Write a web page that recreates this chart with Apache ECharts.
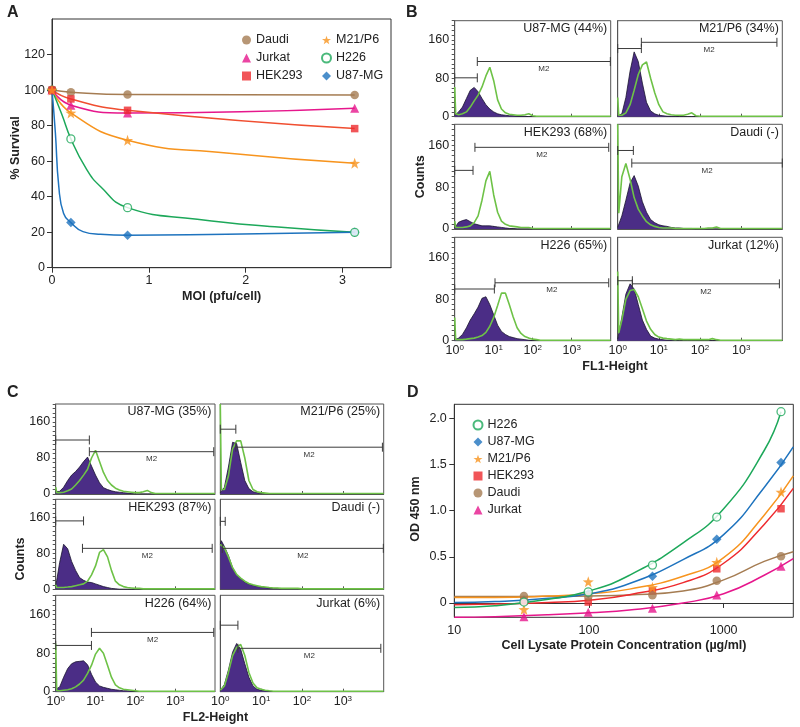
<!DOCTYPE html>
<html><head><meta charset="utf-8">
<script src="https://cdn.jsdelivr.net/npm/echarts@6.0.0/dist/echarts.min.js"></script>
<style>html,body{margin:0;padding:0;background:#fff}#c{width:800px;height:727px}</style>
</head><body><div id="c"></div>
<script>
// ---------------- DATA ----------------
// Panel A: % survival vs MOI
const moiX = [0, 0.195, 0.78, 3.125];
const survDaudi = [100, 98.8, 97.5, 97.2];
const survJurkat = [100, 91.5, 87.1, 89.8];
const survHEK293 = [100, 95, 88.6, 78.3];
const survM21 = [100, 87.1, 71.7, 58.8];
const survH226 = [100, 72.5, 33.8, 19.9];
const survU87 = [100, 25.4, 18.3, 19.9];
// fitted curves (x = MOI, y = % survival)
const fitADaudi = [[0,100],[0.195,98.8],[0.78,97.5],[3.125,97.2]];
const fitAJurkat = [[0,100],[0.195,91.5],[0.78,87.1],[3.125,89.8]];
const fitAHEK293 = [[0,100],[0.195,95],[0.78,88.6],[3.125,78.3]];
const fitAM21 = [[0,100],[0.195,87.1],[0.78,71.7],[1.8,64.5],[3.125,58.8]];
const fitAH226 = [[0,100],[0.1,86.5],[0.195,72.5],[0.35,56],[0.5,45.7],[0.78,33.8],[1.5,27.3],[2.3,23],[3.125,19.9]];
const fitAU87 = [[0,100],[0.035,75.8],[0.07,45.7],[0.12,30.5],[0.195,25.4],[0.32,20.3],[0.5,18.8],[0.78,18.3],[1.8,18.9],[3.125,19.9]];
const aXTicks = [0, 1, 2, 3];
const aYTicks = [0, 20, 40, 60, 80, 100, 120];

// Panel D: OD 450 vs lysate concentration
const concX = [32.9, 98.8, 296, 889, 2667];
const odH226 = [0.01, 0.12, 0.41, 0.93, 2.07];
const odU87 = [0.03, 0.10, 0.29, 0.69, 1.52];
const odM21 = [-0.07, 0.23, 0.17, 0.44, 1.20];
const odHEK293 = [0.02, 0.01, 0.13, 0.37, 1.02];
const odDaudi = [0.076, 0.07, 0.083, 0.24, 0.505];
const odJurkat = [-0.148, -0.10, -0.058, 0.087, 0.397];
const fitDX = [10, 20, 50, 100, 200, 500, 1000, 2000, 3290];
const fitDXH226 = [10, 20, 50, 100, 200, 500, 1000, 2000, 2667];
const fitDH226 = [-0.05, -0.03, 0.04, 0.13, 0.30, 0.65, 1.02, 1.65, 2.07];
const fitDU87 = [0.005, 0.015, 0.05, 0.10, 0.21, 0.47, 0.74, 1.25, 1.69];
const fitDM21 = [0.058, 0.059, 0.075, 0.10, 0.15, 0.29, 0.49, 0.95, 1.375];
const fitDHEK293 = [-0.02, -0.012, 0.005, 0.03, 0.09, 0.22, 0.43, 0.85, 1.24];
const fitDDaudi = [0.07, 0.07, 0.072, 0.076, 0.087, 0.13, 0.25, 0.45, 0.555];
const fitDJurkat = [-0.155, -0.148, -0.128, -0.105, -0.076, 0.0, 0.10, 0.30, 0.48];
const dXTicks = [10, 100, 1000];
const dYTicks = [0, 0.5, 1, 1.5, 2];

// Panels B, C: flow histograms (counts per channel)
const histBins = [1, 1.06, 1.26, 1.58, 2, 2.51, 3.16, 3.98, 5.01, 6.31, 7.94, 10, 12.6, 15.8, 20, 25.1, 31.6, 39.8, 50.1, 63.1, 79.4, 100, 126, 158, 200, 251, 316, 1000, 10000];
const histXTicks = [1, 10, 100, 1000];
const histYLabels = [0, 80, 160];
const histYTicks = [0, 10, 20, 30, 40, 50, 60, 70, 80, 90, 100, 110, 120, 130, 140, 150, 160, 170, 180, 190, 200];
const gateNames = ['M1', 'M2'];

const bNames = ['U87-MG (44%)', 'M21/P6 (34%)', 'HEK293 (68%)', 'Daudi (-)', 'H226 (65%)', 'Jurkat (12%)'];
const bU87Ctrl  = [3,3,10,20,38,55,61,52,38,25,16,10,6,4,3,2,2,1,1,1,0,0,0,0,0,0,0,0,0];
const bU87Stain = [62,6,4,6,10,20,33,45,62,85,103,75,35,16,8,5,4,3,3,4,6,2,1,1,1,1,1,1,1];
const bU87Gates = [[1, 3.8, 81], [3.8, 9800, 115]];
const bM21Ctrl  = [2,2,6,40,95,135,115,70,30,12,6,3,2,1,1,1,0,0,0,0,0,0,0,0,0,0,0,0,0];
const bM21Stain = [40,3,3,8,25,55,88,108,114,80,50,25,10,6,4,3,3,3,5,8,2,1,1,1,1,1,1,1,1];
const bM21Gates = [[1, 3.76, 142], [3.76, 7400, 155]];
const bHEKCtrl  = [2,2,13,16,18,14,10,8,6,6,6,5,4,3,2,1,1,0,0,0,0,0,0,0,0,0,0,0,0];
const bHEKStain = [15,3,3,3,4,6,12,25,55,92,110,65,32,15,9,6,5,4,3,3,3,1,1,1,1,1,1,1,1];
const bHEKGates = [[1, 2.95, 112], [3.3, 8900, 156]];
const bDaudiCtrl  = [3,3,25,55,88,102,82,52,32,18,12,8,6,5,3,2,2,1,1,1,0,0,0,0,0,0,0,0,0];
const bDaudiStain = [200,30,100,125,95,60,38,25,14,8,5,3,2,2,2,1,1,1,1,1,1,1,1,2,2,4,1,1,1];
const bDaudiGates = [[1, 2.4, 150], [2.2, 10000, 126]];
const bH226Ctrl  = [2,2,5,12,25,40,52,65,82,85,70,50,30,18,12,8,6,4,3,2,1,0,0,0,0,0,0,0,0];
const bH226Stain = [45,2,2,2,3,4,5,7,10,16,28,45,68,92,92,70,46,25,14,8,5,3,2,1,1,1,1,1,1];
const bH226Gates = [[1, 10.4, 100], [10.8, 8900, 112]];
const bJurkatCtrl  = [3,5,45,90,110,100,70,40,22,9,5,3,2,1,1,1,0,0,0,0,0,0,0,0,0,0,0,0,0];
const bJurkatStain = [134,15,40,80,97,99,85,62,38,22,12,7,5,4,3,2,3,2,2,2,2,2,2,2,4,2,1,1,1];
const bJurkatGates = [[1, 2.27, 116], [2.27, 8500, 110]];

const cNames = ['U87-MG (35%)', 'M21/P6 (25%)', 'HEK293 (87%)', 'Daudi (-)', 'H226 (64%)', 'Jurkat (6%)'];
const cU87Ctrl  = [5,5,6,15,30,42,50,60,72,82,62,42,25,14,10,7,5,4,3,2,1,0,0,0,0,0,0,0,0];
const cU87Stain = [15,3,3,4,7,11,20,30,42,55,80,97,72,48,30,20,13,9,6,5,4,3,3,5,8,3,1,1,1];
const cU87Gates = [[1, 7.0, 120], [7.0, 9300, 94]];
const cM21Ctrl  = [3,3,15,60,115,112,70,30,12,5,3,1,1,0,0,0,0,0,0,0,0,0,0,0,0,0,0,0,0];
const cM21Stain = [200,10,10,40,100,118,118,80,30,10,5,3,2,1,1,1,1,1,1,1,1,1,1,1,1,1,1,1,1];
const cM21Gates = [[1, 2.4, 144], [2.4, 9300, 104]];
const cHEKCtrl  = [5,20,60,100,90,62,42,26,20,16,15,12,9,6,4,2,1,0,0,0,0,0,0,0,0,0,0,0,0];
const cHEKStain = [10,4,4,4,5,6,8,10,12,18,32,52,82,88,72,42,18,10,6,4,3,2,2,1,1,1,1,1,1];
const cHEKGates = [[1, 5.0, 152], [4.7, 8500, 91]];
const cDaudiCtrl  = [100,108,95,75,48,32,24,16,12,9,7,5,4,3,2,2,1,1,1,1,1,0,0,0,0,0,0,0,0];
const cDaudiStain = [100,100,92,72,48,33,25,18,13,10,8,6,5,4,3,3,2,2,2,2,2,1,1,1,1,1,1,1,1];
const cDaudiGates = [[1, 1.32, 151], [1.12, 9800, 91]];
const cH226Ctrl  = [5,5,10,30,48,58,62,63,64,56,36,20,12,9,7,5,4,3,2,2,1,0,0,0,0,0,0,0,0];
const cH226Stain = [100,2,2,3,4,6,10,16,24,38,55,78,90,80,55,30,14,8,5,4,3,2,1,1,1,1,1,1,1];
const cH226Gates = [[1, 7.9, 96], [7.9, 9300, 123]];
const cJurkatCtrl  = [2,2,15,45,82,100,88,58,30,12,5,3,2,1,0,0,0,0,0,0,0,0,0,0,0,0,0,0,0];
const cJurkatStain = [3,3,12,40,75,92,98,75,40,18,8,5,3,2,1,1,1,1,1,1,1,1,1,1,1,1,1,1,1];
const cJurkatGates = [[1, 2.7, 138], [2.7, 8500, 90]];

// ---------------- STYLE / LAYOUT ----------------
const FONT = '"Liberation Sans", Arial, Helvetica, sans-serif';
const TXT = '#222';
const C_DAUDI = '#A57C52', C_JURKAT = '#E6178C', C_HEK = '#EE2A2E', C_HEKLINE = '#F04E30',
      C_M21 = '#F7941E', C_H226 = '#1DA85A', C_U87 = '#1E73BE';
const C_CTRL = '#4B2D86', C_CTRL_EDGE = '#1a1530', C_STAIN = '#6EC247';
const STAR = 'path://M0,-10 L2.35,-3.24 L9.51,-3.09 L3.8,1.24 L5.88,8.09 L0,4 L-5.88,8.09 L-3.8,1.24 L-9.51,-3.09 L-2.35,-3.24 Z';

const markers = {
  'Daudi':  {symbol:'circle', size:8.5, itemStyle:{color:C_DAUDI}},
  'Jurkat': {symbol:'triangle', size:9, itemStyle:{color:C_JURKAT}},
  'HEK293': {symbol:'rect', size:7.5, itemStyle:{color:C_HEK}},
  'M21/P6': {symbol:STAR, size:11, itemStyle:{color:C_M21}},
  'H226':   {symbol:'circle', size:8, itemStyle:{color:'#fff', borderColor:C_H226, borderWidth:1.3}},
  'U87-MG': {symbol:'diamond', size:9.5, itemStyle:{color:C_U87}}
};

const pairs = (xs, ys) => ys.map((y, i) => [xs[i], y]);

const grid = [], xAxis = [], yAxis = [], series = [], graphic = [];

function txt(x, y, text, opt) {
  const o = Object.assign({size:12.5, weight:'normal', align:'center', va:'middle', rot:0}, opt || {});
  graphic.push({type:'text', x:x, y:y, rotation:o.rot, z:100,
    style:{text:text, fill:TXT, font:o.weight + ' ' + o.size + 'px ' + FONT,
      fontSize:o.size, fontWeight:o.weight, fontFamily:FONT,
      align:o.align, textAlign:o.align, verticalAlign:o.va, textVerticalAlign:o.va}});
}

// ---------- Panel A ----------
grid.push({left:52, top:19, width:339, height:248.7, show:true, borderColor:'#333', borderWidth:1});
xAxis.push({gridIndex:0, type:'value', min:0, max:3.5,
  axisLine:{show:true, lineStyle:{color:'#333'}},
  axisTick:{show:true, length:5, customValues:aXTicks, lineStyle:{color:'#333'}},
  axisLabel:{customValues:aXTicks, margin:6, fontSize:12.5, color:TXT, fontFamily:FONT},
  splitLine:{show:false}});
yAxis.push({gridIndex:0, type:'value', min:0, max:140,
  axisLine:{show:true, lineStyle:{color:'#333'}},
  axisTick:{show:true, length:5, customValues:aYTicks, lineStyle:{color:'#333'}},
  axisLabel:{customValues:aYTicks, margin:7, fontSize:12.5, color:TXT, fontFamily:FONT},
  splitLine:{show:false}});

const aFits = [['Daudi', fitADaudi, C_DAUDI], ['Jurkat', fitAJurkat, C_JURKAT], ['HEK293', fitAHEK293, C_HEKLINE],
  ['M21/P6', fitAM21, C_M21], ['H226', fitAH226, C_H226], ['U87-MG', fitAU87, C_U87]];
aFits.forEach(([n, d, c]) => series.push({type:'line', name:n + ' fit A', xAxisIndex:0, yAxisIndex:0,
  data:d, smooth:0.5, symbol:'none', lineStyle:{color:c, width:1.5}, z:2, silent:true}));
const aPts = [['U87-MG', survU87], ['H226', survH226], ['Daudi', survDaudi], ['Jurkat', survJurkat], ['HEK293', survHEK293], ['M21/P6', survM21]];
aPts.forEach(([n, d]) => series.push({type:'scatter', name:n, xAxisIndex:0, yAxisIndex:0, data:pairs(moiX, d),
  symbol:markers[n].symbol, symbolSize:markers[n].size, itemStyle:markers[n].itemStyle, z:5}));

// ---------- Panel D ----------
grid.push({left:454.3, top:404.3, width:339, height:213, show:true, borderColor:'#333', borderWidth:1});
xAxis.push({gridIndex:1, type:'log', logBase:10, min:10, max:3290,
  axisLine:{show:true, lineStyle:{color:'#333'}},
  axisTick:{show:true, length:5, customValues:dXTicks, lineStyle:{color:'#333'}},
  axisLabel:{customValues:dXTicks, margin:6.5, fontSize:12.5, color:TXT, fontFamily:FONT, formatter:v => String(Math.round(v))},
  splitLine:{show:false}, minorTick:{show:false}});
yAxis.push({gridIndex:1, type:'value', min:-0.155, max:2.15,
  axisLine:{show:true, lineStyle:{color:'#333'}},
  axisTick:{show:true, length:5, customValues:dYTicks, lineStyle:{color:'#333'}},
  axisLabel:{customValues:dYTicks, margin:7.5, fontSize:12.5, color:TXT, fontFamily:FONT,
    formatter:v => (Math.abs(v) < 1e-9 ? '0' : v.toFixed(1))},
  splitLine:{show:false}});
const dFits = [['Daudi', fitDX, fitDDaudi, C_DAUDI], ['Jurkat', fitDX, fitDJurkat, C_JURKAT], ['HEK293', fitDX, fitDHEK293, C_HEK],
  ['M21/P6', fitDX, fitDM21, C_M21], ['U87-MG', fitDX, fitDU87, C_U87], ['H226', fitDXH226, fitDH226, C_H226]];
dFits.forEach(([n, xs, d, c]) => series.push({type:'line', name:n + ' fit D', xAxisIndex:1, yAxisIndex:1,
  data:pairs(xs, d), smooth:0.5, symbol:'none', lineStyle:{color:c, width:1.5}, z:2, silent:true}));
const dPts = [['U87-MG', odU87], ['HEK293', odHEK293], ['Daudi', odDaudi], ['M21/P6', odM21], ['Jurkat', odJurkat], ['H226', odH226]];
dPts.forEach(([n, d]) => series.push({type:'scatter', name:n, xAxisIndex:1, yAxisIndex:1, data:pairs(concX, d),
  symbol:markers[n].symbol, symbolSize:markers[n].size, itemStyle:markers[n].itemStyle, z:5}));

// ---------- Histogram panels ----------
function gateItem(params, api) {
  const a = api.coord([api.value(0), api.value(2)]);
  const b = api.coord([api.value(1), api.value(2)]);
  const st = {stroke:'#3a3a3a', lineWidth:1};
  const ch = [
    {type:'line', shape:{x1:a[0], y1:a[1], x2:b[0], y2:b[1]}, style:st},
    {type:'line', shape:{x1:a[0], y1:a[1] - 4.5, x2:a[0], y2:a[1] + 4.5}, style:st},
    {type:'line', shape:{x1:b[0], y1:b[1] - 4.5, x2:b[0], y2:b[1] + 4.5}, style:st}
  ];
  if (params.dataIndex === 1) {
    ch.push({type:'text', x:(a[0] + b[0]) / 2, y:a[1] + 7.5,
      style:{text:gateNames[1], fill:'#333', font:'8px ' + FONT, fontSize:8, fontFamily:FONT,
        align:'center', textAlign:'center', verticalAlign:'middle', textVerticalAlign:'middle'}});
  }
  return {type:'group', children:ch};
}

function addHist(box, col, row, panel) {
  const gi = grid.length;
  grid.push({left:box.left, top:box.top, width:box.width, height:box.height, show:true, borderColor:'#555', borderWidth:1});
  xAxis.push({gridIndex:gi, type:'log', logBase:10, min:1, max:10000,
    axisLine:{show:true, lineStyle:{color:'#555'}},
    axisTick:{show:true, inside:true, length:3, customValues:histXTicks, lineStyle:{color:'#555'}},
    axisLabel: row === 2 ? {customValues:histXTicks, margin:3,
      formatter:v => '{b|10}{s|' + Math.round(Math.log10(v)) + '}',
      rich:{b:{fontSize:12.5, fontFamily:FONT, color:TXT}, s:{fontSize:8, fontFamily:FONT, color:TXT, padding:[0,0,6,0]}}} : {show:false},
    splitLine:{show:false}, minorTick:{show:false}});
  yAxis.push({gridIndex:gi, type:'value', min:0, max:200,
    axisLine:{show:true, lineStyle:{color:'#555'}},
    axisTick: col === 0 ? {show:true, length:3, customValues:histYTicks, lineStyle:{color:'#555'}} : {show:false},
    axisLabel: col === 0 ? {customValues:histYLabels, margin:5.5, fontSize:12.5, color:TXT, fontFamily:FONT} : {show:false},
    splitLine:{show:false}});
  series.push({type:'line', xAxisIndex:gi, yAxisIndex:gi, data:pairs(histBins, panel.ctrl), symbol:'none',
    lineStyle:{color:C_CTRL_EDGE, width:0.8}, areaStyle:{color:C_CTRL, opacity:1}, z:2, silent:true});
  series.push({type:'line', xAxisIndex:gi, yAxisIndex:gi, data:pairs(histBins, panel.stain), symbol:'none',
    lineStyle:{color:C_STAIN, width:1.6}, z:3, silent:true});
  series.push({type:'custom', xAxisIndex:gi, yAxisIndex:gi, data:panel.gates, renderItem:gateItem, z:4, silent:true, clip:false});
  txt(box.left + box.width - 3.5, box.top + 8, panel.label, {align:'right'});
}

const bPanels = [
  {label:bNames[0], ctrl:bU87Ctrl, stain:bU87Stain, gates:bU87Gates},
  {label:bNames[1], ctrl:bM21Ctrl, stain:bM21Stain, gates:bM21Gates},
  {label:bNames[2], ctrl:bHEKCtrl, stain:bHEKStain, gates:bHEKGates},
  {label:bNames[3], ctrl:bDaudiCtrl, stain:bDaudiStain, gates:bDaudiGates},
  {label:bNames[4], ctrl:bH226Ctrl, stain:bH226Stain, gates:bH226Gates},
  {label:bNames[5], ctrl:bJurkatCtrl, stain:bJurkatStain, gates:bJurkatGates}];
const cPanels = [
  {label:cNames[0], ctrl:cU87Ctrl, stain:cU87Stain, gates:cU87Gates},
  {label:cNames[1], ctrl:cM21Ctrl, stain:cM21Stain, gates:cM21Gates},
  {label:cNames[2], ctrl:cHEKCtrl, stain:cHEKStain, gates:cHEKGates},
  {label:cNames[3], ctrl:cDaudiCtrl, stain:cDaudiStain, gates:cDaudiGates},
  {label:cNames[4], ctrl:cH226Ctrl, stain:cH226Stain, gates:cH226Gates},
  {label:cNames[5], ctrl:cJurkatCtrl, stain:cJurkatStain, gates:cJurkatGates}];

const bCols = [{left:454.7, width:156}, {left:617.7, width:164.6}];
const bRows = [{top:20.7, height:96}, {top:124.3, height:104.7}, {top:237.3, height:103.4}];
const cCols = [{left:55.7, width:159.3}, {left:220.3, width:163.4}];
const cRows = [{top:404, height:90}, {top:499.3, height:90}, {top:595.3, height:96.4}];

bPanels.forEach((p, i) => { const r = Math.floor(i / 2), c = i % 2;
  addHist({left:bCols[c].left, width:bCols[c].width, top:bRows[r].top, height:bRows[r].height}, c, r, p); });
cPanels.forEach((p, i) => { const r = Math.floor(i / 2), c = i % 2;
  addHist({left:cCols[c].left, width:cCols[c].width, top:cRows[r].top, height:cRows[r].height}, c, r, p); });

// ---------- Texts ----------
txt(7, 13, 'A', {size:16, weight:'bold', align:'left'});
txt(406, 13, 'B', {size:16, weight:'bold', align:'left'});
txt(7, 392.5, 'C', {size:16, weight:'bold', align:'left'});
txt(407, 392.5, 'D', {size:16, weight:'bold', align:'left'});
txt(15.7, 148, '% Survival', {weight:'bold', rot:Math.PI / 2});
txt(221.7, 296.7, 'MOI (pfu/cell)', {weight:'bold'});
txt(420.8, 176.7, 'Counts', {weight:'bold', rot:Math.PI / 2});
txt(615, 366.7, 'FL1-Height', {weight:'bold'});
txt(21, 559, 'Counts', {weight:'bold', rot:Math.PI / 2});
txt(215.5, 717.5, 'FL2-Height', {weight:'bold'});
txt(415.7, 509, 'OD 450 nm', {weight:'bold', rot:Math.PI / 2});
txt(624, 645.5, 'Cell Lysate Protein Concentration (µg/ml)', {weight:'bold'});

const legendBase = {orient:'vertical', itemWidth:9, itemHeight:9, itemGap:4, selectedMode:false,
  textStyle:{fontSize:12.5, fontFamily:FONT, color:TXT, lineHeight:14}};
const legend = [
  Object.assign({}, legendBase, {data:['Daudi', 'Jurkat', 'HEK293'], left:237, top:28}),
  Object.assign({}, legendBase, {data:['M21/P6', 'H226', 'U87-MG'], left:316, top:28}),
  Object.assign({}, legendBase, {data:['H226', 'U87-MG', 'M21/P6', 'HEK293', 'Daudi', 'Jurkat'], left:467.5, top:413, itemGap:3})
];

const chart = echarts.init(document.getElementById('c'), null, {renderer:'canvas'});
chart.setOption({animation:false, backgroundColor:'#fff', grid, xAxis, yAxis, series, legend, graphic});
</script></body></html>
